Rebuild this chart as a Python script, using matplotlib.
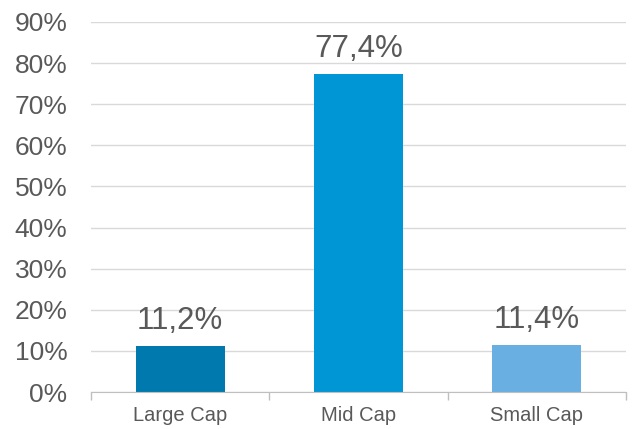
import matplotlib
matplotlib.use("Agg")
import matplotlib.pyplot as plt
from matplotlib.ticker import FixedLocator

categories = ["Large Cap", "Mid Cap", "Small Cap"]
values = [11.2, 77.4, 11.4]
labels = ["11,2%", "77,4%", "11,4%"]
colors = ["#0079AE", "#0095D4", "#69AFE2"]
yticks = [0, 10, 20, 30, 40, 50, 60, 70, 80, 90]

plt.rcParams['font.family'] = ['Liberation Sans', 'DejaVu Sans']
txt = "#595959"

fig = plt.figure(figsize=(6.34, 4.29), dpi=100)
ax = fig.add_axes([91/634, 1-392/429, 535/634, 370/429])

x = list(range(len(categories)))
bars = ax.bar(x, values, width=0.5, color=colors, zorder=3)
for xi, v, lab in zip(x, values, labels):
    ax.annotate(lab, (xi, v), xytext=(0, 7), textcoords="offset points",
                ha="center", va="bottom", fontsize=22.5, color=txt)

ax.set_xlim(-0.5, 2.5)
ax.set_ylim(0, 90)
ax.set_yticks(yticks)
ax.set_yticklabels([f"{t}%" for t in yticks])
ax.set_xticks(x)
ax.set_xticklabels(categories)
ax.xaxis.set_minor_locator(FixedLocator([-0.5, 0.5, 1.5, 2.5]))
ax.tick_params(axis="x", which="major", length=0, pad=10, labelsize=14.5, labelcolor=txt)
ax.tick_params(axis="x", which="minor", length=6, color="#BFBFBF", width=1)
ax.tick_params(axis="y", length=0, pad=17, labelsize=19, labelcolor=txt)
ax.grid(axis="y", color="#D9D9D9", linewidth=1, zorder=0)
for s in ["left", "right", "top"]:
    ax.spines[s].set_visible(False)
ax.spines["bottom"].set_color("#BFBFBF")
ax.spines["bottom"].set_zorder(4)

fig.savefig("out.png", dpi=100)
